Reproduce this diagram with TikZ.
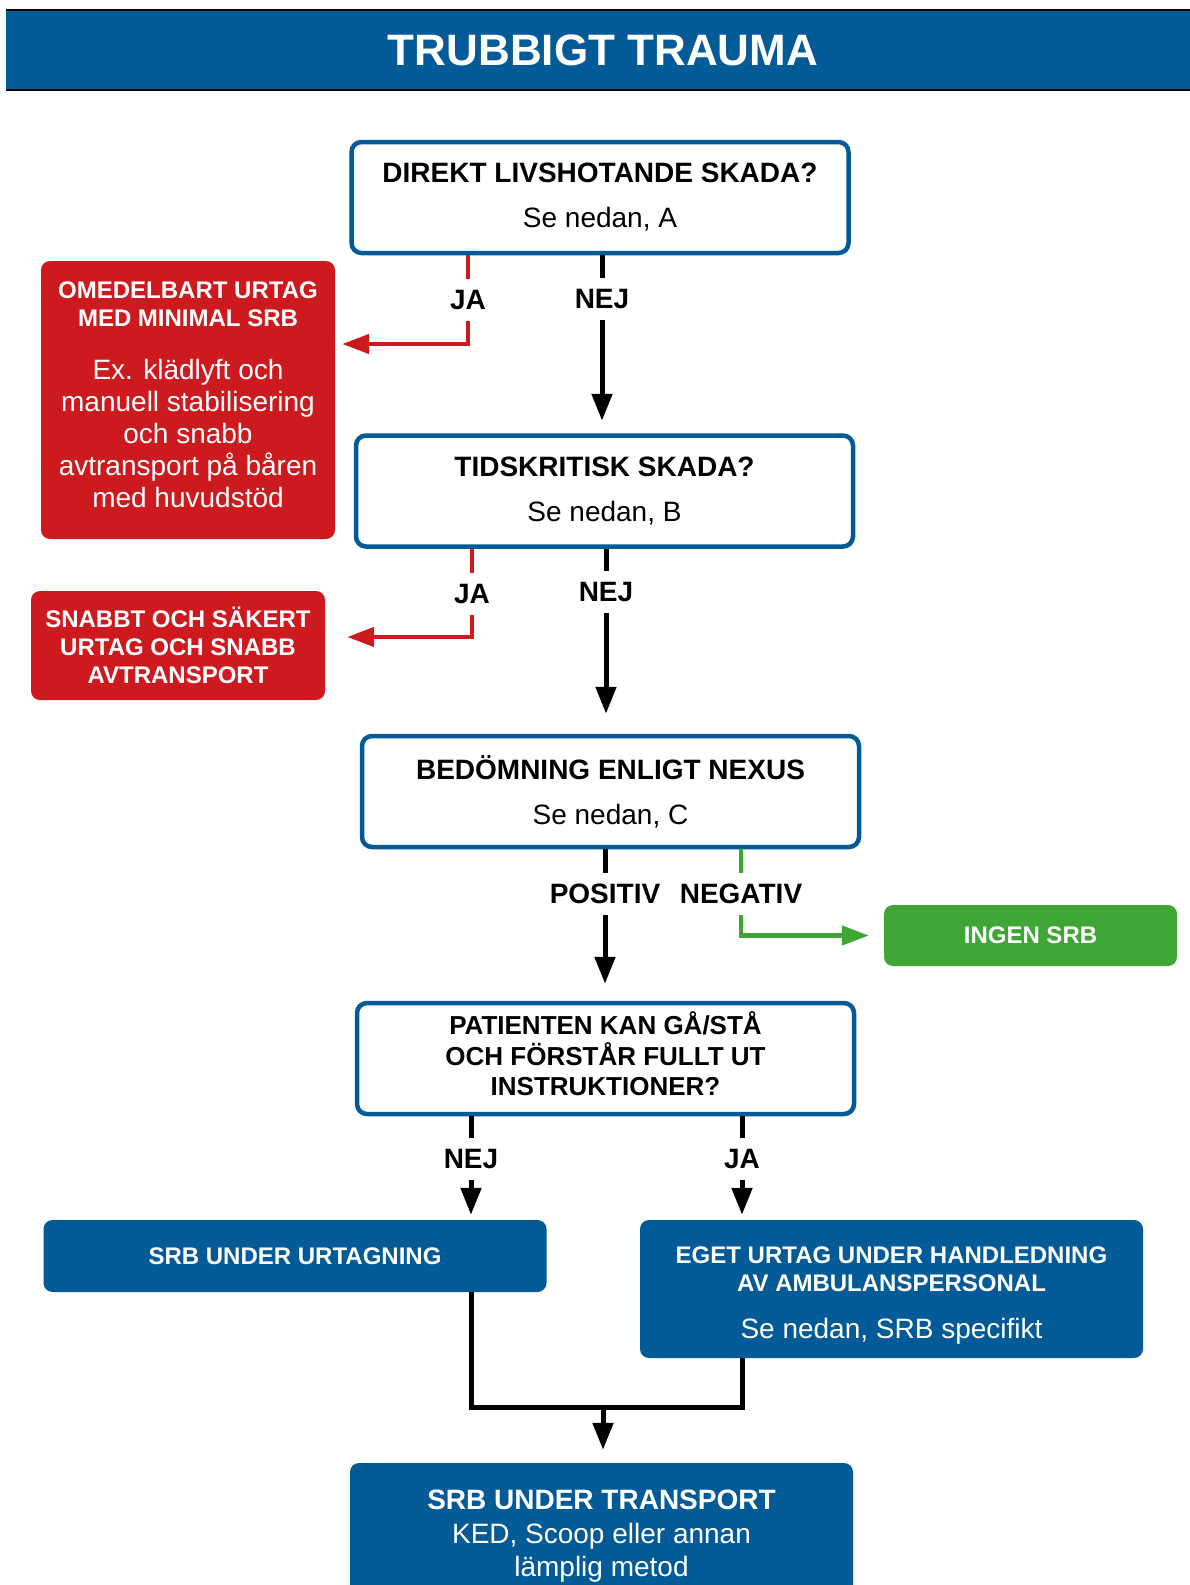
\documentclass[tikz,border=0pt]{standalone}
\usepackage{fontspec}
\setmainfont{Liberation Sans}
\usetikzlibrary{arrows.meta, positioning}

\definecolor{trblue}{RGB}{2,91,150}
\definecolor{trred}{RGB}{204,26,30}
\definecolor{trgreen}{RGB}{63,165,53}
\newcommand{\setfs}[2]{\fontsize{#1}{#2}\selectfont}

\begin{document}
\begin{tikzpicture}[
    x=1pt, y=-1pt,
    >={Triangle[length=27pt, width=20pt]},
    titlebar/.style={fill=trblue, minimum width=1194pt, minimum height=80pt, text=white, font=\setfs{44}{44}\bfseries},
    qbox/.style={draw=trblue, line width=4.5pt, rounded corners=10pt, fill=white, minimum width=497pt, minimum height=111pt, align=center, font=\setfs{28}{45}},
    redbox/.style={fill=trred, rounded corners=9pt, minimum width=294pt, text=white, align=center, font=\setfs{24}{28}\bfseries},
    greenbox/.style={fill=trgreen, rounded corners=9pt, minimum width=293pt, minimum height=61pt, text=white, font=\setfs{24}{28}\bfseries},
    bluebox/.style={fill=trblue, rounded corners=9pt, minimum width=503pt, text=white, align=center, font=\setfs{24}{28}\bfseries},
    bodytext/.style={text=white, align=center, font=\setfs{28}{32}},
    answer/.style={inner xsep=2pt, inner ysep=11pt, font=\setfs{28}{28}\bfseries},
    conn/.style={line width=5pt},
    redline/.style={line width=4.5pt, draw=trred},
    greenline/.style={line width=4.5pt, draw=trgreen}
]
    \path[use as bounding box, fill=white] (0,0) rectangle (1189,1585);

    % Title
    \node[titlebar] (title) at (603,50) {TRUBBIGT TRAUMA};
    \draw[line width=2.5pt] (title.north west) -- (title.north east)
        (title.south west) -- (title.south east);

    % Questions
    \node[qbox] (direkt) at (600,197.5) {{\bfseries DIREKT LIVSHOTANDE SKADA?}\\Se nedan, A};
    \node[qbox] (tidskritisk) at (604.5,491) {{\bfseries TIDSKRITISK SKADA?}\\Se nedan, B};
    \node[qbox] (nexus) at (610.5,791.5) {{\bfseries BEDÖMNING ENLIGT NEXUS}\\Se nedan, C};
    \node[qbox] (patient) at (605.5,1058.5) {};
    \node[align=center, font=\setfs{26}{30.5}\bfseries] (patient-text) at (605.5,1054) {PATIENTEN KAN GÅ/STÅ\\OCH FÖRSTÅR FULLT UT\\INSTRUKTIONER?};

    % Red outcomes
    \node[redbox, minimum height=278pt] (omedelbart) at (188,400) {};
    \node[text=white, align=center, font=\setfs{24}{28}\bfseries] (omedelbart-head) at (188,304) {OMEDELBART URTAG\\MED MINIMAL SRB};
    \node[bodytext] (omedelbart-body) at (188,433.5) {Ex. klädlyft och\\manuell stabilisering\\och snabb\\avtransport på båren\\med huvudstöd};
    \node[redbox, minimum height=109pt] (snabbt) at (178,645.5) {SNABBT OCH SÄKERT\\URTAG OCH SNABB\\AVTRANSPORT};

    % Green outcome
    \node[greenbox] (ingen) at (1030.5,935.5) {INGEN SRB};

    % Blue outcomes
    \node[bluebox, minimum height=72pt] (urtag) at (295,1256) {SRB UNDER URTAGNING};
    \node[bluebox, minimum height=138pt] (eget) at (891.5,1289) {};
    \node[text=white, align=center, font=\setfs{24}{28}\bfseries] (eget-head) at (891.5,1269) {EGET URTAG UNDER HANDLEDNING\\AV AMBULANSPERSONAL};
    \node[bodytext] (eget-body) at (891.5,1331) {Se nedan, SRB specifikt};
    \node[bluebox, minimum height=147pt, font=\setfs{28}{33.5}] (transport) at (601.5,1536.5) {{\bfseries SRB UNDER TRANSPORT}\\KED, Scoop eller annan\\lämplig metod};

    % Answers
    \node[answer] (ja1) at (468,300) {JA};
    \node[answer] (nej1) at (602,299) {NEJ};
    \node[answer] (ja2) at (472,594) {JA};
    \node[answer] (nej2) at (606,592) {NEJ};
    \node[answer] (pos) at (605,894) {POSITIV};
    \node[answer] (neg) at (741,894) {NEGATIV};
    \node[answer] (nej3) at (471,1159) {NEJ};
    \node[answer] (ja3) at (742,1159) {JA};

    \coordinate (ja1-bend) at (468,344);
    \coordinate (ja2-bend) at (472,637);
    \coordinate (merge) at (603,1407);

    % Connections
    \draw[redline] (direkt.south -| ja1) -- (ja1);
    \draw[redline, -{Triangle[length=27pt, width=19pt]}, shorten >=7pt] (ja1) -- (ja1-bend) -- (ja1-bend -| omedelbart.east);
    \draw[conn] (direkt.south -| nej1) -- (nej1);
    \draw[conn, ->, shorten >=12.5pt] (nej1) -- (tidskritisk.north -| nej1);

    \draw[redline] (tidskritisk.south -| ja2) -- (ja2);
    \draw[redline, -{Triangle[length=27pt, width=19pt]}, shorten >=22pt] (ja2) -- (ja2-bend) -- (ja2-bend -| snabbt.east);
    \draw[conn] (tidskritisk.south -| nej2) -- (nej2);
    \draw[conn, ->, shorten >=20pt] (nej2) -- (nexus.north -| nej2);

    \draw[conn] (nexus.south -| pos) -- (pos);
    \draw[conn, ->, shorten >=17pt] (pos) -- (patient.north -| pos);
    \draw[greenline] (nexus.south -| neg) -- (neg);
    \draw[greenline, -{Triangle[length=27pt, width=19pt]}, shorten >=15pt] (neg) |- (ingen.west);

    \draw[conn] (patient.south -| nej3) -- (nej3);
    \draw[conn, ->, shorten >=5pt] (nej3) -- (urtag.north -| nej3);
    \draw[conn] (patient.south -| ja3) -- (ja3);
    \draw[conn, ->, shorten >=5pt] (ja3) -- (eget.north -| ja3);

    \draw[conn] (urtag.south -| nej3) |- (merge) -| (eget.south -| ja3);
    \draw[conn, ->, shorten >=13pt] (merge) -- (transport.north -| merge);
\end{tikzpicture}
\end{document}
